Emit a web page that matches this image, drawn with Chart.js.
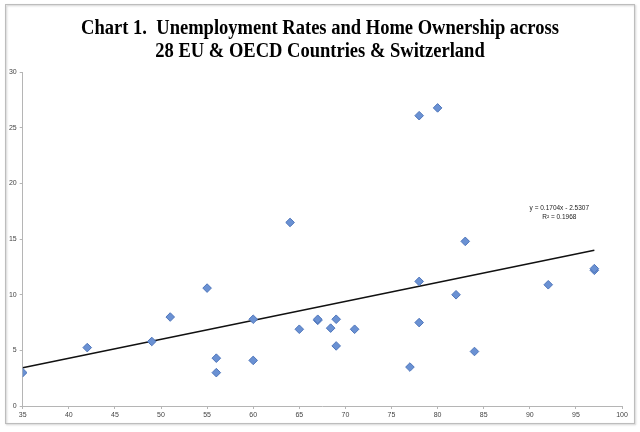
<!DOCTYPE html>
<html>
<head>
<meta charset="utf-8">
<script src="https://cdn.jsdelivr.net/npm/chart.js@4"></script>
<style>
html,body{margin:0;padding:0;background:#fff;}
#wrap{width:640px;height:432px;position:relative;}
</style>
</head>
<body>
<div id="wrap"><canvas id="c" width="640" height="432"></canvas></div>
<script>
// Home ownership rate (%) per country
const ownership = [35, 42, 49, 51, 55, 56, 56, 60, 60, 64, 65, 67, 67, 68.4, 69, 69, 71, 77, 78, 78, 78, 80, 82, 83, 84, 92, 97, 97];
// Unemployment rate (%) per country
const unemployment = [3.0, 5.25, 5.8, 8.0, 10.6, 4.3, 3.0, 7.8, 4.1, 16.5, 6.9, 7.7, 7.8, 7.0, 7.8, 5.4, 6.9, 3.5, 26.1, 11.2, 7.5, 26.8, 10.0, 14.8, 4.9, 10.9, 12.2, 12.35];
// Linear trendline (as printed on chart)
const trendSlope = 0.1704;
const trendIntercept = -2.5307;
const trendRange = [35, 97];
const trendLabels = ["y = 0.1704x - 2.5307", "R\u00B2 = 0.1968"];
const titleLines = ["Chart 1.  Unemployment Rates and Home Ownership across", "28 EU & OECD Countries & Switzerland"];
const xTicks = [35, 40, 45, 50, 55, 60, 65, 70, 75, 80, 85, 90, 95, 100];
const yTicks = [0, 5, 10, 15, 20, 25, 30];

const points = ownership.map((x, i) => ({x: x, y: unemployment[i]}));
const trendPts = trendRange.map(x => ({x: x, y: trendSlope * x + trendIntercept}));

const framePlugin = {
  id: 'frame',
  beforeDraw(chart) {
    const ctx = chart.ctx;
    ctx.save();
    ctx.fillStyle = '#fff';
    ctx.fillRect(0, 0, chart.width, chart.height);
    ctx.shadowColor = 'rgba(0,0,0,0.25)';
    ctx.shadowBlur = 2;
    ctx.shadowOffsetX = 1;
    ctx.shadowOffsetY = 1;
    ctx.strokeStyle = '#bdbdbd';
    ctx.lineWidth = 1;
    ctx.strokeRect(5.5, 4.5, 629, 419);
    ctx.restore();
    // Title (condensed bold serif, two centred lines)
    ctx.save();
    ctx.fillStyle = '#000';
    ctx.font = 'bold 21.6px "Liberation Serif", "Times New Roman", serif';
    ctx.textAlign = 'center';
    ctx.textBaseline = 'alphabetic';
    const baselines = [33.5, 57.3];
    titleLines.forEach((t, i) => {
      ctx.save();
      ctx.translate(320, baselines[i]);
      ctx.scale(0.858, 1);
      ctx.fillText(t, 0, 0);
      ctx.restore();
    });
    ctx.restore();
  }
};

const trendLabelPlugin = {
  id: 'trendLabel',
  afterDatasetsDraw(chart) {
    const ctx = chart.ctx;
    const xs = chart.scales.x, ys = chart.scales.y;
    const cx = xs.getPixelForValue(93.2);
    const cy = ys.getPixelForValue(17.8);
    ctx.save();
    ctx.fillStyle = '#222';
    ctx.font = '6.5px "Liberation Sans", sans-serif';
    ctx.textAlign = 'center';
    ctx.textBaseline = 'middle';
    ctx.fillText(trendLabels[0], cx, cy);
    ctx.fillText(trendLabels[1], cx, cy + 9);
    ctx.restore();
  }
};

new Chart(document.getElementById('c'), {
  type: 'scatter',
  data: {
    datasets: [
      {
        type: 'line',
        data: trendPts,
        borderColor: '#111',
        borderWidth: 1.5,
        pointRadius: 0,
        fill: false,
        order: 2
      },
      {
        data: points,
        pointStyle: 'rectRot',
        pointRadius: 4.3,
        backgroundColor: '#6a91d3',
        borderColor: '#4f76bb',
        borderWidth: 1,
        order: 1
      }
    ]
  },
  options: {
    responsive: false,
    animation: false,
    devicePixelRatio: 1,
    layout: {padding: {left: 5, right: 18, top: 72.3, bottom: 12}},
    plugins: {
      legend: {display: false},
      tooltip: {enabled: false},
      title: {display: false}
    },
    scales: {
      x: {
        type: 'linear',
        min: 35, max: 100,
        afterBuildTicks(s) { s.ticks = xTicks.map(v => ({value: v})); },
        afterFit(s) { s.height = 14; },
        ticks: {color: '#444', font: {family: '"Liberation Sans", sans-serif', size: 7}, padding: 2, maxRotation: 0},
        grid: {display: true, drawOnChartArea: false, drawTicks: true, tickLength: 3, color: '#b5b5b5'},
        border: {color: '#b5b5b5'}
      },
      y: {
        type: 'linear',
        min: 0, max: 30,
        afterBuildTicks(s) { s.ticks = yTicks.map(v => ({value: v})); },
        afterFit(s) { s.width = 17.7; },
        ticks: {color: '#444', font: {family: '"Liberation Sans", sans-serif', size: 7}, padding: 3},
        grid: {display: true, drawOnChartArea: false, drawTicks: true, tickLength: 3, color: '#b5b5b5'},
        border: {color: '#b5b5b5'}
      }
    }
  },
  plugins: [framePlugin, trendLabelPlugin]
});
</script>
</body>
</html>
